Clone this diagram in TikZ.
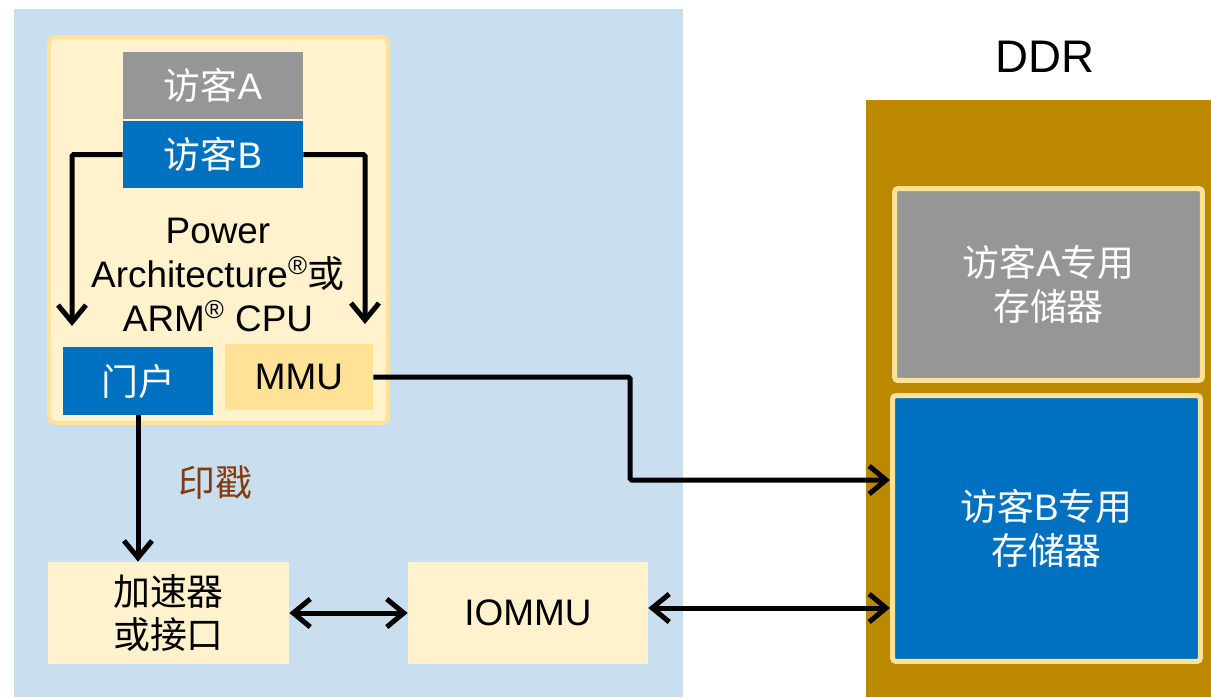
\documentclass[tikz,border=0pt]{standalone}
\usepackage{fontspec}
\setmainfont{Liberation Sans}
\newfontfamily\zhfont{Noto Sans CJK SC}
\newcommand\zh[1]{{\zhfont #1}}
\usetikzlibrary{arrows.meta}
\definecolor{socblue}{RGB}{201,222,239}
\definecolor{cream}{RGB}{255,242,204}
\definecolor{gold}{RGB}{255,226,150}
\definecolor{guestgray}{RGB}{150,150,150}
\definecolor{guestblue}{RGB}{0,112,192}
\definecolor{ddrbrown}{RGB}{188,136,0}
\definecolor{stampbrown}{RGB}{132,60,12}

\begin{document}
\begin{tikzpicture}[x=0.02cm,y=-0.02cm,
  box/.style={inner sep=0pt,align=center,font=\fontsize{21}{25}\selectfont},
  arr/.style={-{Straight Barb[length=0.34cm,width=0.56cm]},line width=0.1cm,rounded corners=1pt},
  dbl/.style={{Straight Barb[length=0.34cm,width=0.56cm]}-{Straight Barb[length=0.34cm,width=0.56cm]},line width=0.1cm}]
\useasboundingbox (0,0) rectangle (1211,697);
% SoC side
\node[fill=socblue,minimum width=13.38cm,minimum height=13.76cm] (soc) at (348.5,353) {};
\node[fill=cream,draw=gold,line width=0.08cm,rounded corners=3pt,minimum width=6.78cm,minimum height=7.72cm] (cpu) at (218.5,230) {};
\node[box,fill=guestgray,text=white,minimum width=3.6cm,minimum height=1.34cm] (ga) at (213,85.5) {\zh{访客}A};
\node[box,fill=guestblue,text=white,minimum width=3.6cm,minimum height=1.34cm] (gb) at (213,154.5) {\zh{访客}B};
\node[box] (core) at (218,275) {Power\\Architecture\textsuperscript{®}\zh{或}\\ARM\textsuperscript{®} CPU};
\node[box,fill=guestblue,text=white,minimum width=3cm,minimum height=1.36cm] (portal) at (138,381) {\zh{门户}};
\node[box,fill=gold,minimum width=2.96cm,minimum height=1.32cm] (mmu) at (299,377) {MMU};
\node[box,fill=cream,minimum width=4.82cm,minimum height=2.04cm] (acc) at (168.5,613) {\zh{加速器}\\\zh{或接口}};
\node[box,fill=cream,minimum width=4.8cm,minimum height=2.04cm] (iommu) at (528,613) {IOMMU};
\node[box,text=stampbrown] (stamp) at (215,483) {\zh{印戳}};
% DDR side
\node[box,font=\fontsize{26}{30}\selectfont] (ddrlbl) at (1045,57) {DDR};
\node[fill=ddrbrown,minimum width=6.9cm,minimum height=11.94cm] (ddr) at (1038.5,398.5) {};
\node[box,fill=guestgray,draw=gold,line width=0.1cm,rounded corners=2pt,text=white,minimum width=6.16cm,minimum height=3.84cm] (mema) at (1048.5,284.5) {\zh{访客}A\zh{专用}\\\zh{存储器}};
\node[box,fill=guestblue,draw=gold,line width=0.1cm,rounded corners=2pt,text=white,minimum width=6.16cm,minimum height=5.32cm] (memb) at (1046.5,528.5) {\zh{访客}B\zh{专用}\\\zh{存储器}};
% connectors
\coordinate (lt) at (72,326);
\coordinate (rt) at (365,324);
\coordinate (bend) at (630,480);
\draw[arr] (gb.west) -| (lt);
\draw[arr] (gb.east) -| (rt);
\draw[arr] (portal.south) -- (portal.south |- acc.north);
\draw[arr] (mmu.east) -| (bend) -- (bend -| memb.west);
\draw[dbl] (acc.east) -- (iommu.west);
\draw[dbl] ([yshift=0.1cm]iommu.east) -- ([yshift=0.1cm]iommu.east -| memb.west);
\end{tikzpicture}
\end{document}
